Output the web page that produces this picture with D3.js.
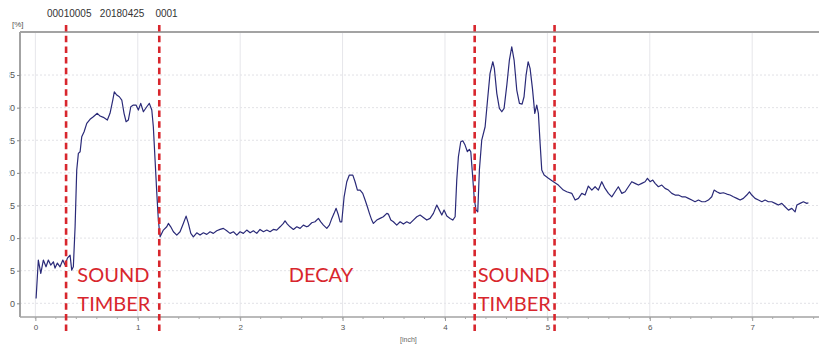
<!DOCTYPE html>
<html>
<head>
<meta charset="utf-8">
<script src="https://cdn.jsdelivr.net/npm/d3@7/dist/d3.min.js"></script>
<style>
  body { margin: 0; background: #fff; }
  svg { display: block; }
</style>
</head>
<body>
<div id="chart"></div>
<script>
// ── Data ──────────────────────────────────────────────────────────────────────
const HEADER = "00010005   20180425    0001";

const INCH = [
  0.007, 0.029, 0.053, 0.078, 0.104, 0.127, 0.150, 0.176, 0.192, 0.215, 0.241, 0.268, 0.290, 0.313, 0.339, 0.355, 0.371,
  0.388, 0.404, 0.420, 0.437, 0.453, 0.476, 0.502, 0.534, 0.566, 0.605, 0.632, 0.664, 0.703, 0.729, 0.756, 0.771, 0.795,
  0.820, 0.844, 0.866, 0.886, 0.908, 0.932, 0.957, 0.983, 1.006, 1.029, 1.055, 1.088, 1.113, 1.137, 1.152, 1.169, 1.186,
  1.201, 1.218,
  1.250, 1.283, 1.299, 1.322, 1.348, 1.381, 1.413, 1.445, 1.472, 1.494, 1.518, 1.543, 1.576, 1.608, 1.641, 1.674, 1.706,
  1.738, 1.771, 1.804, 1.836, 1.869, 1.901, 1.934, 1.967, 1.999, 2.031, 2.064, 2.097, 2.129, 2.162, 2.194, 2.227, 2.260,
  2.292, 2.324, 2.357, 2.390, 2.422, 2.438, 2.461, 2.487, 2.520, 2.553, 2.585, 2.617, 2.650, 2.666, 2.699, 2.731, 2.764,
  2.787, 2.813, 2.846, 2.871, 2.895, 2.917, 2.937, 2.959, 2.976, 2.992, 3.015, 3.041, 3.066, 3.100, 3.122, 3.145, 3.171,
  3.197, 3.220, 3.242, 3.262, 3.285, 3.301, 3.334, 3.366, 3.398, 3.432, 3.447, 3.471, 3.496, 3.529, 3.562, 3.594, 3.627,
  3.659, 3.691, 3.725, 3.757, 3.789, 3.822, 3.854, 3.887, 3.920, 3.945, 3.969, 3.991, 4.018, 4.050, 4.076, 4.099,
  4.115, 4.131, 4.154, 4.174, 4.196, 4.219, 4.238, 4.252, 4.268, 4.287, 4.304, 4.320, 4.336, 4.359, 4.392, 4.414, 4.440,
  4.467, 4.482, 4.506, 4.531, 4.555, 4.577, 4.604, 4.629, 4.652, 4.675, 4.701, 4.727, 4.753, 4.772, 4.792, 4.812, 4.831,
  4.854, 4.877, 4.896, 4.912, 4.929, 4.945, 4.968,
  5.010, 5.059, 5.107, 5.156, 5.189, 5.238, 5.271, 5.303, 5.336, 5.368, 5.400, 5.434, 5.466, 5.498, 5.531, 5.563, 5.596,
  5.629, 5.661, 5.693, 5.727, 5.759, 5.791, 5.824, 5.856, 5.889, 5.922, 5.954, 5.977, 6.003, 6.029, 6.052, 6.084, 6.117,
  6.149, 6.182, 6.215, 6.247, 6.279, 6.313, 6.345, 6.377, 6.410, 6.442, 6.475, 6.508, 6.540, 6.572, 6.605, 6.628, 6.654,
  6.686, 6.719, 6.752, 6.784, 6.816, 6.850, 6.882, 6.914, 6.947, 6.973, 6.996, 7.028, 7.061, 7.094, 7.126, 7.158, 7.191,
  7.224, 7.256, 7.289, 7.321, 7.354, 7.387, 7.419, 7.436, 7.468, 7.500, 7.533, 7.549
];

const PCT = [
  0.75, 6.63, 4.59, 6.63, 5.60, 6.63, 5.86, 6.37, 5.40, 6.17, 5.60, 6.63, 5.86, 6.93, 7.39, 5.09, 5.60,
  11.73, 20.43, 22.99, 23.24, 25.54, 26.30, 27.59, 28.21, 28.60, 29.13, 28.71, 28.51, 28.10, 29.13, 31.17, 32.44, 31.93,
  31.67, 31.17, 29.13, 27.84, 28.10, 30.14, 30.40, 30.40, 29.63, 30.66, 29.37, 30.14, 30.66, 29.63, 27.07, 21.96, 16.86,
  12.76, 10.20,
  11.23, 11.73, 12.25, 11.73, 10.97, 10.46, 10.97, 12.25, 13.37, 12.25, 10.72, 10.20, 10.81, 10.46, 10.81, 10.57, 10.97,
  10.72, 11.12, 11.33, 11.49, 11.12, 10.72, 10.97, 10.46, 10.97, 10.72, 11.23, 10.81, 11.12, 10.72, 11.33, 10.97, 11.23,
  10.97, 11.33, 11.23, 11.73, 12.25, 12.65, 12.15, 11.73, 11.33, 11.73, 11.49, 11.99, 11.73, 11.84, 12.35, 12.50, 13.02,
  12.50, 11.99, 11.49, 11.99, 13.02, 13.79, 14.56, 13.53, 12.50, 12.50, 16.33, 18.64, 19.66, 19.66, 18.64, 17.36, 17.36,
  16.86, 15.83, 14.80, 13.79, 12.76, 12.25, 12.76, 13.02, 13.27, 13.79, 13.68, 12.76, 12.50, 11.99, 12.50, 12.15, 12.50,
  12.25, 12.76, 13.27, 13.53, 13.17, 12.76, 13.02, 13.79, 15.06, 14.29, 13.53, 14.29, 13.37, 13.02, 12.76, 13.27,
  18.90, 22.47, 24.77, 24.92, 24.26, 23.24, 23.60, 23.24, 19.92, 15.83, 14.29, 14.03, 20.43, 25.03, 27.07, 30.90, 35.26,
  37.04, 36.03, 32.19, 29.89, 29.37, 29.89, 33.47, 37.30, 39.34, 37.30, 32.70, 30.66, 30.55, 31.67, 35.00, 37.04, 36.03,
  32.96, 29.13, 30.40, 29.13, 24.52, 20.43, 19.66,
  19.16, 18.64, 18.13, 17.36, 17.10, 16.86, 15.83, 16.09, 16.86, 16.60, 17.98, 17.36, 17.87, 17.36, 18.64, 17.62, 16.86,
  16.33, 17.10, 17.87, 16.86, 17.10, 17.87, 18.64, 18.39, 18.13, 18.39, 18.64, 19.16, 18.64, 18.90, 18.39, 17.87, 18.13,
  17.62, 17.36, 16.86, 16.60, 16.60, 16.33, 16.33, 16.09, 15.83, 15.57, 15.83, 15.57, 15.57, 15.83, 16.33, 17.36, 17.10,
  16.86, 16.95, 16.75, 16.60, 16.33, 16.09, 15.83, 16.09, 16.60, 17.10, 16.60, 16.09, 15.83, 15.57, 15.83, 15.57, 15.57,
  15.32, 15.06, 15.32, 14.80, 14.29, 14.56, 14.03, 15.06, 15.32, 15.57, 15.32, 15.41
];

const Y_TICKS   = [0, 5, 10, 15, 20, 25, 30, 35];
const X_TICKS   = [0, 1, 2, 3, 4, 5, 6, 7];
const MARKERS   = [0.30, 1.21, 4.29, 5.07];          // red dashed section borders (inch)
const NOTE_TEXT = [["SOUND", "TIMBER"], ["DECAY"], ["SOUND", "TIMBER"]];
const NOTE_AT   = [0.41, 2.475, 4.32];               // left edge of each note (inch)
const NOTE_ROWS = [3.3, -1.2];                        // baseline of each text row (%)

// ── Dimensions ────────────────────────────────────────────────────────────────
const W = 819, H = 346;
const plot = { left: 20, right: 829, top: 32, bottom: 317 };
const RED = "#d8262d";
const GREY = "#a3a3a3";

const svg = d3.select("#chart").append("svg")
  .attr("width", W).attr("height", H)
  .style("font-family", "'Liberation Sans', Arial, sans-serif");

// ── Scales ────────────────────────────────────────────────────────────────────
const x = d3.scaleLinear().domain([-0.15, 7.75]).range([plot.left, plot.right]);
const y = d3.scaleLinear().domain([-2.1, 41.6]).range([plot.bottom, plot.top]);

// ── Grid ──────────────────────────────────────────────────────────────────────
svg.append("g").selectAll("line").data(Y_TICKS).join("line")
  .attr("x1", plot.left).attr("x2", W)
  .attr("y1", d => y(d)).attr("y2", d => y(d))
  .attr("stroke", "#e2e2e6").attr("stroke-width", 1)
  .attr("stroke-dasharray", "2,2");

svg.append("g").selectAll("line").data(X_TICKS).join("line")
  .attr("x1", d => x(d)).attr("x2", d => x(d))
  .attr("y1", plot.top).attr("y2", plot.bottom)
  .attr("stroke", "#e6e6ea").attr("stroke-width", 1);

// ── Frame / axes ──────────────────────────────────────────────────────────────
svg.append("line")
  .attr("x1", plot.left).attr("x2", W).attr("y1", plot.top).attr("y2", plot.top)
  .attr("stroke", GREY).attr("stroke-width", 2);

const yAxis = svg.append("g")
  .attr("transform", `translate(${plot.left},0)`)
  .call(d3.axisLeft(y).tickValues(Y_TICKS).tickSize(3).tickPadding(2));
yAxis.select(".domain").attr("stroke", GREY).attr("stroke-width", 2)
  .attr("d", `M0,${plot.top}V${plot.bottom}`);
yAxis.selectAll(".tick line").attr("stroke", "#888");
yAxis.selectAll(".tick text")
  .attr("fill", "#555").style("font-size", "9px")
  .attr("clip-path", "url(#ylab-clip)");

// the source picture is cut on the left: only the last digit of each label shows
svg.append("clipPath").attr("id", "ylab-clip")
  .attr("clipPathUnits", "userSpaceOnUse")
  .append("rect").attr("x", -10.5).attr("y", -400).attr("width", 20).attr("height", 800);

const xAxis = svg.append("g")
  .attr("transform", `translate(0,${plot.bottom})`)
  .call(d3.axisBottom(x).tickValues(X_TICKS).tickSize(4).tickPadding(3));
xAxis.select(".domain").attr("stroke", GREY).attr("stroke-width", 1.6)
  .attr("d", `M${plot.left},0H${W}`);
xAxis.selectAll(".tick line").attr("stroke", "#999");
xAxis.selectAll(".tick text").attr("fill", "#555").style("font-size", "8px");

// minor ticks every 0.2 inch
svg.append("g").selectAll("line").data(d3.range(0, 7.7, 0.2)).join("line")
  .attr("x1", d => x(d)).attr("x2", d => x(d))
  .attr("y1", plot.bottom).attr("y2", plot.bottom + 2)
  .attr("stroke", "#aaa");

svg.append("text")
  .attr("x", 12).attr("y", 27)
  .attr("fill", "#555").style("font-size", "8px")
  .text("[%]");

svg.append("text")
  .attr("x", 400).attr("y", 342)
  .attr("fill", "#666").style("font-size", "7px")
  .text("[inch]");

svg.append("text")
  .attr("x", 47).attr("y", 17)
  .attr("fill", "#333").style("font-size", "10px")
  .style("white-space", "pre")
  .text(HEADER);

// ── Line ──────────────────────────────────────────────────────────────────────
const pts = INCH.map((v, i) => [v, PCT[i]]);
svg.append("path")
  .datum(pts)
  .attr("fill", "none")
  .attr("stroke", "#2a2a78")
  .attr("stroke-width", 1.2)
  .attr("stroke-linejoin", "round")
  .attr("d", d3.line().x(d => x(d[0])).y(d => y(d[1])));

// ── Annotations ───────────────────────────────────────────────────────────────
svg.append("g").selectAll("line").data(MARKERS).join("line")
  .attr("x1", d => x(d)).attr("x2", d => x(d))
  .attr("y1", plot.top - 7).attr("y2", plot.bottom + 16)
  .attr("stroke", RED).attr("stroke-width", 2.6)
  .attr("stroke-dasharray", "6.5,4.2");

NOTE_TEXT.forEach((lines, i) => {
  lines.forEach((t, r) => {
    svg.append("text")
      .attr("x", x(NOTE_AT[i])).attr("y", y(NOTE_ROWS[r]))
      .attr("fill", RED)
      .style("font-family", "Lato, 'Open Sans', sans-serif")
      .style("font-size", "20px")
      .text(t);
  });
});
</script>
</body>
</html>
